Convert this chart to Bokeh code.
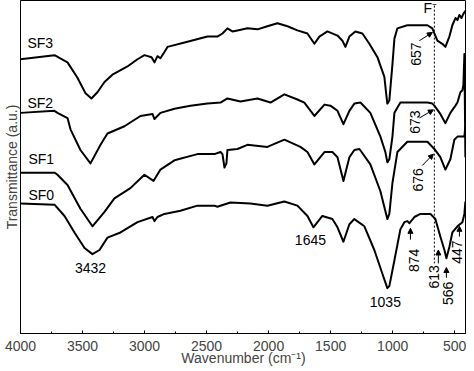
from bokeh.plotting import figure
from bokeh.models import Range1d, SingleIntervalTicker, FixedTicker, Arrow, NormalHead, ColumnDataSource
from bokeh.core.properties import value
from bokeh.embed import file_html
from bokeh.resources import INLINE

FONT = "Liberation Sans"

# ---- data: wavenumber (cm-1) and transmittance (a.u.) ----
sf3_wn = [4000, 3863, 3726, 3621, 3541, 3476, 3428, 3380, 3323, 3259, 3138, 3057, 3001, 2944, 2920, 2896, 2872, 2840, 2815, 2654, 2493, 2413, 2372, 2332, 2292, 2251, 2171, 2090, 2010, 1929, 1848, 1768, 1687, 1631, 1591, 1526, 1445, 1405, 1381, 1349, 1301, 1244, 1188, 1123, 1067, 1051, 1043, 1027, 1002, 986, 962, 882, 801, 720, 680, 664, 640, 600, 575, 543, 519, 494, 478, 462, 446, 430, 414]
sf3_t = [266, 268, 270, 263, 248, 233, 228, 234, 244, 251, 259, 266, 270, 268, 263, 269, 267, 273, 278, 283, 288, 288, 291, 296, 293, 294, 296, 295, 298, 301, 298, 294, 291, 281, 288, 293, 289, 284, 278, 288, 293, 291, 281, 268, 249, 231, 223, 226, 261, 286, 296, 299, 299, 299, 296, 291, 284, 281, 278, 288, 299, 306, 304, 309, 306, 310, 313]

sf2_wn = [4000, 3726, 3702, 3621, 3597, 3517, 3436, 3355, 3299, 3162, 3033, 2936, 2920, 2872, 2759, 2630, 2493, 2388, 2332, 2227, 2090, 1985, 1873, 1768, 1712, 1631, 1550, 1502, 1445, 1397, 1349, 1309, 1260, 1180, 1099, 1059, 1043, 1027, 1002, 986, 938, 720, 680, 664, 616, 575, 535, 494, 478, 454, 438, 430, 422, 414]
sf2_t = [214, 216, 214, 209, 198, 178, 165, 183, 194, 201, 211, 213, 208, 214, 218, 221, 223, 224, 228, 225, 228, 224, 232, 227, 224, 211, 222, 221, 216, 203, 216, 223, 224, 214, 191, 176, 166, 169, 191, 214, 224, 224, 223, 221, 213, 204, 214, 221, 224, 234, 236, 241, 271, 171]

sf1_wn = [4000, 3726, 3702, 3621, 3517, 3420, 3323, 3243, 3114, 3001, 2928, 2872, 2759, 2574, 2437, 2388, 2372, 2356, 2340, 2332, 2251, 2171, 2010, 1873, 1744, 1687, 1631, 1550, 1486, 1445, 1397, 1349, 1309, 1268, 1180, 1099, 1043, 1027, 1002, 962, 882, 720, 664, 616, 575, 535, 503, 478, 422, 414]
sf1_t = [156, 156, 154, 144, 121, 104, 118, 131, 141, 154, 148, 159, 168, 174, 174, 176, 174, 161, 165, 178, 179, 183, 181, 188, 181, 176, 164, 176, 176, 171, 148, 171, 178, 179, 164, 138, 111, 116, 146, 176, 186, 186, 179, 171, 159, 169, 188, 191, 191, 201]

sf0_wn = [4000, 3726, 3645, 3565, 3484, 3420, 3363, 3299, 3194, 3057, 2936, 2920, 2896, 2840, 2711, 2574, 2437, 2413, 2308, 2147, 2010, 1873, 1768, 1687, 1639, 1567, 1486, 1445, 1397, 1349, 1309, 1228, 1148, 1083, 1043, 1027, 986, 938, 906, 882, 865, 825, 777, 696, 656, 616, 583, 567, 543, 519, 478, 438, 422, 414]
sf0_t = [126, 125, 114, 98, 83, 77, 81, 93, 98, 108, 113, 109, 113, 116, 119, 124, 124, 123, 127, 126, 124, 128, 124, 114, 103, 114, 111, 103, 89, 106, 111, 104, 81, 58, 44, 46, 71, 101, 108, 109, 107, 113, 116, 116, 111, 94, 81, 73, 84, 98, 104, 108, 116, 128]

# series names and label anchor points
series_names = ["SF3", "SF2", "SF1", "SF0"]
series_label_wn = [3944, 3944, 3936, 3936]
series_label_t = [282, 224, 169, 134]

# horizontal peak labels
peak_labels = ["3432", "1645", "1035", "F\u207b"]
peak_wn = [3436, 1663, 1059, 696]
peak_t = [64, 91, 31, 316]

# rotated peak labels
rot_labels = ["874", "613", "566", "447", "657", "673", "676"]
rot_wn = [825, 664, 551, 482, 809, 817, 793]
rot_t = [71, 55, 39, 79, 271, 205, 149]

# arrows
arr_x0 = [857, 632, 567, 462, 785, 785, 761]
arr_y0 = [91, 68, 54, 94, 284, 209, 163]
arr_x1 = [857, 632, 567, 462, 680, 672, 672]
arr_y1 = [102, 81, 64, 104, 292, 217, 174]

# F- reference line
f_line_wn = [664, 664]
f_line_t = [318, 68]

x_ticks_interval = 500

p = figure(width=466, height=368, output_backend="svg", toolbar_location=None,
           x_range=Range1d(4000, 405), y_range=Range1d(0, 323),
           min_border_left=19, min_border_right=0, min_border_top=0, min_border_bottom=0)
p.background_fill_color = "white"
p.border_fill_color = "white"
p.outline_line_color = "black"
p.outline_line_width = 1
p.xgrid.visible = False
p.ygrid.visible = False

for wn, t in [(sf3_wn, sf3_t), (sf2_wn, sf2_t), (sf1_wn, sf1_t), (sf0_wn, sf0_t)]:
    p.line(wn, t, line_color="black", line_width=2, line_join="round")

p.line(f_line_wn, f_line_t, line_color="black", line_width=1, line_dash="2 2")

txt = dict(text_font=value(FONT), text_font_size="14px", text_color="black")
p.text(x=series_label_wn, y=series_label_t, text=series_names, text_align="left", text_baseline="middle", **txt)
p.text(x=peak_wn, y=peak_t, text=peak_labels, text_align="center", text_baseline="middle", **txt)
p.text(x=rot_wn, y=rot_t, text=rot_labels, angle=1.5708, text_align="center", text_baseline="middle", **txt)

arr_src = ColumnDataSource(dict(x0=arr_x0, y0=arr_y0, x1=arr_x1, y1=arr_y1))
p.add_layout(Arrow(end=NormalHead(size=5, fill_color="black", line_color="black", line_width=1),
                   x_start="x0", y_start="y0", x_end="x1", y_end="y1", source=arr_src,
                   line_color="black", line_width=1))

xa = p.xaxis[0]
xa.ticker = SingleIntervalTicker(interval=x_ticks_interval, num_minor_ticks=2)
xa.axis_label = "Wavenumber (cm\u207b\u00b9)"
xa.axis_label_text_font = FONT
xa.axis_label_text_font_size = "14px"
xa.axis_label_text_font_style = "normal"
xa.axis_label_standoff = -4
xa.major_label_text_font = FONT
xa.major_label_text_font_size = "14px"
xa.major_label_standoff = 7
xa.major_tick_in = 3
xa.major_tick_out = 0
xa.minor_tick_in = 2
xa.minor_tick_out = 0
xa.axis_line_color = "black"
xa.major_tick_line_color = "black"
xa.minor_tick_line_color = "black"

ya = p.yaxis[0]
ya.ticker = FixedTicker(ticks=[])
ya.axis_label = "Transmittance (a.u.)"
ya.axis_label_text_font = FONT
ya.axis_label_text_font_size = "14px"
ya.axis_label_text_font_style = "normal"
ya.axis_label_standoff = 1
ya.major_tick_out = 0
ya.major_tick_in = 0
ya.minor_tick_out = 0
ya.minor_tick_in = 0
ya.major_label_text_font_size = "0px"
ya.axis_line_color = "black"

open("out.html", "w").write(file_html(p, INLINE))
